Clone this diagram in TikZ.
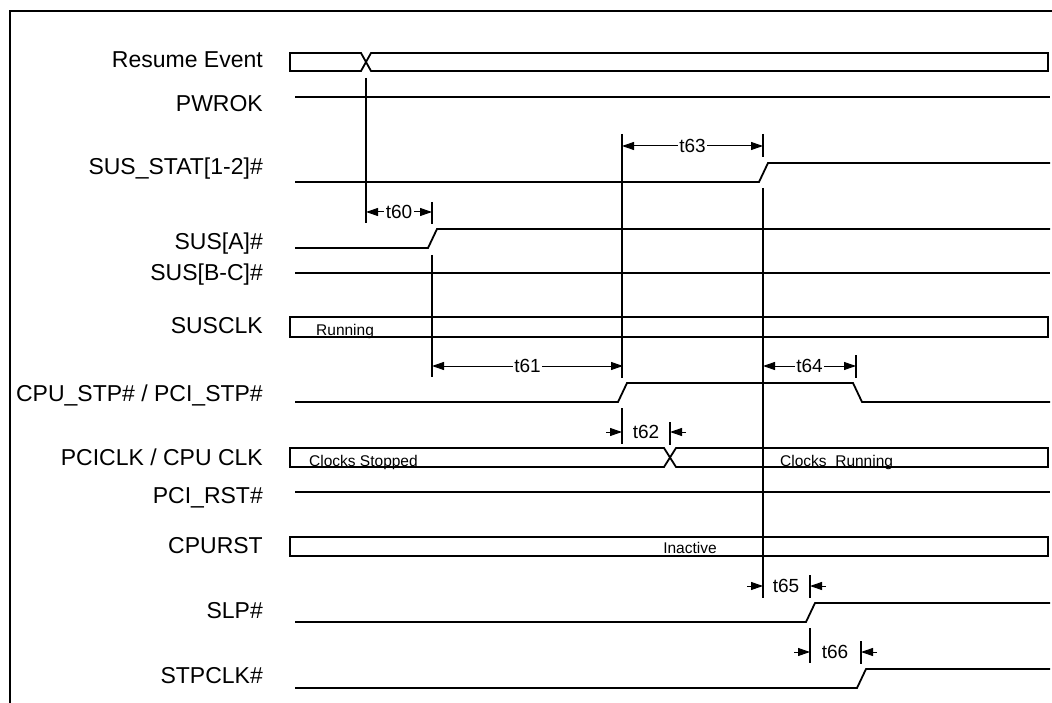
\documentclass[tikz,border=0pt]{standalone}
\usepackage{fontspec}
\setmainfont{Liberation Sans}
\usetikzlibrary{arrows.meta}
\begin{document}
\begin{tikzpicture}[x=1pt,y=-1pt,
  sig/.style={line width=1.8pt, line join=miter},
  ext/.style={line width=1.3pt},
  dim/.style={line width=1pt, {Triangle[length=12pt,width=8pt]}-{Triangle[length=12pt,width=8pt]}},
  pin/.style={line width=1pt, -{Triangle[length=12pt,width=8pt]}},
  lbl/.style={anchor=base east, font=\fontsize{23}{25}\selectfont, inner sep=0pt},
  tl/.style={font=\fontsize{19}{21}\selectfont, inner sep=1.5pt, fill=white},
  tlp/.style={font=\fontsize{19}{21}\selectfont, inner sep=0pt},
  bt/.style={font=\fontsize{15.5}{17}\selectfont, inner sep=0pt},
]
\useasboundingbox (0,0) rectangle (1052,703);
% frame
\draw[line width=2.6pt] (10,703) -- (10,11) -- (1052,11);

% signal names
\node[lbl] (nRes) at (263,68) {Resume Event};
\node[lbl] (nPwr) at (263,112) {PWROK};
\node[lbl] (nStat) at (263,175) {SUS\_STAT[1-2]\#};
\node[lbl] (nSusA) at (263,250) {SUS[A]\#};
\node[lbl] (nSusB) at (263,281) {SUS[B-C]\#};
\node[lbl] (nSusclk) at (263,333) {SUSCLK};
\node[lbl] (nCpuStp) at (263,401) {CPU\_STP\# / PCI\_STP\#};
\node[lbl] (nPciclk) at (263,465) {PCICLK / CPU CLK};
\node[lbl] (nPciRst) at (263,503) {PCI\_RST\#};
\node[lbl] (nCpurst) at (263,553) {CPURST};
\node[lbl] (nSlp) at (263,618) {SLP\#};
\node[lbl] (nStpclk) at (263,683) {STPCLK\#};

% waveforms
\draw[sig] (361,53) -- (290,53) -- (290,71) -- (361,71) -- (371,53) -- (1048,53) -- (1048,71) -- (371,71) -- cycle;
\draw[sig] (295,97) -- (1050,97);
\draw[sig] (295,182) -- (759,182) -- (768,163) -- (1050,163);
\draw[sig] (295,248) -- (428,248) -- (437,229) -- (1050,229);
\draw[sig] (295,273) -- (1050,273);
\draw[sig] (290,317) rectangle (1048,337);
\node[bt, anchor=base west] (tRun) at (316,335) {Running};
\draw[sig] (295,402) -- (618,402) -- (627,383) -- (853,383) -- (862,402) -- (1050,402);
\draw[sig] (664,448) -- (290,448) -- (290,467) -- (664,467) -- (676,448) -- (1048,448) -- (1048,467) -- (676,467) -- cycle;
\node[bt, anchor=base west] (tStop) at (309,466) {Clocks Stopped};
\node[bt, anchor=base west] (tRunning) at (780,466) {Clocks\ \ Running};
\draw[sig] (295,492) -- (1050,492);
\draw[sig] (290,537) rectangle (1048,556);
\node[bt, anchor=base] (tInact) at (690,553) {Inactive};
\draw[sig] (295,622) -- (806,622) -- (815,603) -- (1050,603);
\draw[sig] (295,688) -- (857,688) -- (866,669) -- (1050,669);

% extension lines
\coordinate (e60a) at (366,78);  \coordinate (e60b) at (366,223);
\draw[ext] (e60a) -- (e60b);
\coordinate (e60c) at (432,202); \coordinate (e60d) at (432,224);
\draw[ext] (e60c) -- (e60d);
\coordinate (e61a) at (432,255); \coordinate (e61b) at (432,377);
\draw[ext] (e61a) -- (e61b);
\coordinate (e63a) at (622,134); \coordinate (e63b) at (622,378);
\draw[ext] (e63a) -- (e63b);
\coordinate (e62a) at (622,408); \coordinate (e62b) at (622,444);
\draw[ext] (e62a) -- (e62b);
\coordinate (e62c) at (670,422); \coordinate (e62d) at (670,445);
\draw[ext] (e62c) -- (e62d);
\coordinate (e63c) at (763,134); \coordinate (e63d) at (763,157);
\draw[ext] (e63c) -- (e63d);
\coordinate (e64a) at (763,188); \coordinate (e64b) at (763,598);
\draw[ext] (e64a) -- (e64b);
\coordinate (e64c) at (856,355); \coordinate (e64d) at (856,378);
\draw[ext] (e64c) -- (e64d);
\coordinate (e65a) at (810,575); \coordinate (e65b) at (810,598);
\draw[ext] (e65a) -- (e65b);
\coordinate (e66a) at (810,628); \coordinate (e66b) at (810,663);
\draw[ext] (e66a) -- (e66b);
\coordinate (e66c) at (861,641); \coordinate (e66d) at (861,664);
\draw[ext] (e66c) -- (e66d);

% dimension arrows (between two extension lines)
\coordinate (d60l) at (366,212); \coordinate (d60r) at (432,212);
\draw[dim] (d60l) -- node[tl] (t60) {t60} (d60r);
\coordinate (d63l) at (622,146); \coordinate (d63r) at (763,146);
\draw[dim] (d63l) -- node[tl] (t63) {t63} (d63r);
\coordinate (d61l) at (432,366); \coordinate (d61r) at (623,366);
\draw[dim] (d61l) -- node[tl] (t61) {t61} (d61r);
\coordinate (d64l) at (763,366); \coordinate (d64r) at (856,366);
\draw[dim] (d64l) -- node[tl] (t64) {t64} (d64r);

% outside arrows
\coordinate (p62a) at (606,432); \coordinate (q62a) at (622,432);
\coordinate (p62b) at (686,432); \coordinate (q62b) at (670,432);
\draw[pin] (p62a) -- (q62a);
\draw[pin] (p62b) -- (q62b);
\node[tlp] (t62) at (646,432) {t62};

\coordinate (p65a) at (747,586); \coordinate (q65a) at (763,586);
\coordinate (p65b) at (826,586); \coordinate (q65b) at (810,586);
\draw[pin] (p65a) -- (q65a);
\draw[pin] (p65b) -- (q65b);
\node[tlp] (t65) at (786,586) {t65};

\coordinate (p66a) at (794,652); \coordinate (q66a) at (810,652);
\coordinate (p66b) at (877,652); \coordinate (q66b) at (861,652);
\draw[pin] (p66a) -- (q66a);
\draw[pin] (p66b) -- (q66b);
\node[tlp] (t66) at (835,652) {t66};
\end{tikzpicture}
\end{document}
